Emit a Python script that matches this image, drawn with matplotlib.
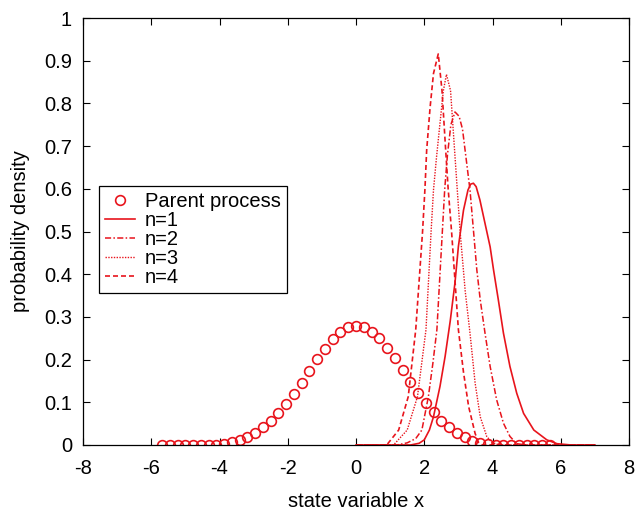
import matplotlib
matplotlib.use("Agg")
import matplotlib.pyplot as plt

plt.rcParams['font.family'] = ['Liberation Sans', 'DejaVu Sans']
plt.rcParams['axes.unicode_minus'] = False

RED = "#e8141c"

# parent process (circles)
parent_x = [-5.69, -5.46, -5.23, -5.01, -4.78, -4.55, -4.32, -4.10, -3.87, -3.64,
            -3.41, -3.19, -2.96, -2.73, -2.50, -2.28, -2.05, -1.82, -1.59, -1.37,
            -1.14, -0.91, -0.68, -0.46, -0.23, 0.00, 0.23, 0.46, 0.68, 0.91,
            1.14, 1.37, 1.59, 1.82, 2.05, 2.28, 2.50, 2.73, 2.96, 3.19,
            3.41, 3.64, 3.87, 4.10, 4.32, 4.55, 4.78, 5.01, 5.23, 5.46, 5.69]
parent_y = [0.0, 0.0, 0.0, 0.0, 0.0, 0.0, 0.001, 0.001, 0.003, 0.006,
            0.011, 0.019, 0.028, 0.041, 0.055, 0.076, 0.096, 0.119, 0.146, 0.174,
            0.201, 0.225, 0.248, 0.264, 0.276, 0.279, 0.276, 0.264, 0.250, 0.226,
            0.203, 0.176, 0.148, 0.121, 0.098, 0.077, 0.057, 0.042, 0.028, 0.018,
            0.010, 0.005, 0.002, 0.001, 0.0, 0.0, 0.0, 0.0, 0.0, 0.0, 0.0]

# n=1 (solid)
n1_x = [0.0, 1.6, 1.85, 2.0, 2.15, 2.27, 2.46, 2.61, 2.76, 2.9, 3.0, 3.15, 3.28, 3.36, 3.44,
        3.52, 3.63, 3.78, 3.93, 4.03, 4.17, 4.32, 4.51, 4.71, 4.91, 5.21, 5.59, 5.89, 6.3, 7.0]
n1_y = [0.0, 0.0, 0.004, 0.012, 0.035, 0.066, 0.137, 0.207, 0.29, 0.38, 0.465, 0.55, 0.597, 0.611, 0.613,
        0.605, 0.574, 0.519, 0.464, 0.41, 0.34, 0.262, 0.184, 0.121, 0.074, 0.035, 0.012, 0.003, 0.0, 0.0]

# n=2 (dash-dot)
n2_x = [0.0, 1.2, 1.5, 1.75, 1.93, 2.12, 2.25, 2.37, 2.46, 2.53, 2.6, 2.68, 2.78, 2.9,
        3.02, 3.12, 3.22, 3.34, 3.44, 3.54, 3.64, 3.78, 3.93, 4.12, 4.32, 4.51, 4.71, 5.0, 7.0]
n2_y = [0.0, 0.0, 0.005, 0.015, 0.035, 0.113, 0.19, 0.27, 0.40, 0.5, 0.6, 0.68, 0.75, 0.78,
        0.77, 0.74, 0.675, 0.597, 0.504, 0.41, 0.34, 0.262, 0.184, 0.106, 0.051, 0.02, 0.003, 0.0, 0.0]

# n=3 (dotted)
n3_x = [0.0, 1.1, 1.5, 1.8, 2.05, 2.2, 2.27, 2.36, 2.46, 2.56, 2.65,
        2.77, 2.88, 3.05, 3.2, 3.34, 3.49, 3.64, 3.83, 3.98, 4.2, 7.0]
n3_y = [0.0, 0.0, 0.035, 0.113, 0.27, 0.5, 0.597, 0.675, 0.753, 0.83, 0.868,
        0.83, 0.7, 0.5, 0.36, 0.262, 0.145, 0.066, 0.02, 0.006, 0.0, 0.0]

# n=4 (dashed)
n4_x = [0.0, 0.9, 1.25, 1.53, 1.75, 1.95, 2.02, 2.07, 2.17, 2.27, 2.41,
        2.52, 2.62, 2.7, 2.8, 3.0, 3.15, 3.3, 3.49, 3.59, 3.7, 7.0]
n4_y = [0.0, 0.0, 0.035, 0.113, 0.27, 0.5, 0.6, 0.69, 0.79, 0.87, 0.916,
        0.83, 0.7, 0.6, 0.5, 0.27, 0.17, 0.09, 0.027, 0.006, 0.0, 0.0]

fig = plt.figure(figsize=(6.35, 5.12), dpi=100)
ax = fig.add_axes([0.1307, 0.1309, 0.8599, 0.8339])

ax.plot(parent_x, parent_y, 'o', mfc='none', mec=RED, ms=7.0, mew=1.2, label='Parent process')
ax.plot(n1_x, n1_y, '-', color=RED, lw=1.2, label='n=1')
ax.plot(n2_x, n2_y, '-.', color=RED, lw=1.1, dashes=(4, 1.5, 1, 1.5), label='n=2')
ax.plot(n3_x, n3_y, ':', color=RED, lw=1.0, dashes=(1, 1), label='n=3')
ax.plot(n4_x, n4_y, '--', color=RED, lw=1.2, dashes=(3, 1.8), label='n=4')

ax.set_xlim(-8, 8)
ax.set_ylim(0, 1)
ax.set_xticks(range(-8, 9, 2))
ax.set_yticks([i / 10 for i in range(11)])
ax.set_yticklabels(['0', '0.1', '0.2', '0.3', '0.4', '0.5', '0.6', '0.7', '0.8', '0.9', '1'])
ax.tick_params(direction='in', top=True, right=True, length=5, width=0.8,
               labelsize=14.5)
ax.tick_params(axis='x', pad=10)
ax.tick_params(axis='y', pad=8)
for s in ax.spines.values():
    s.set_linewidth(0.9)

ax.set_xlabel('state variable x', fontsize=14.5, labelpad=10)
ax.set_ylabel('probability density', fontsize=14.5, labelpad=10)

leg = ax.legend(loc='upper left', bbox_to_anchor=(0.029, 0.607), fontsize=14.5,
                frameon=True, fancybox=False, edgecolor='black', framealpha=1,
                handlelength=1.5, handletextpad=0.5, labelspacing=0.0,
                borderpad=0.3, borderaxespad=0)
leg.get_frame().set_linewidth(0.9)

fig.savefig('out.png', dpi=100)
